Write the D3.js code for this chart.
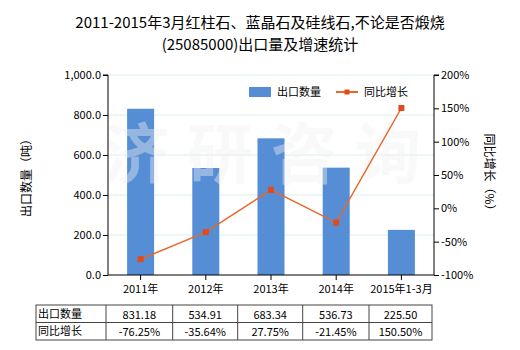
<!DOCTYPE html>
<html>
<head>
<meta charset="utf-8">
<script src="https://cdn.jsdelivr.net/npm/d3@7/dist/d3.min.js"></script>
<style>
  html, body { margin: 0; padding: 0; background: #fff; }
  svg { display: block; font-family: "Noto Sans CJK SC", "Noto Sans", sans-serif; }
</style>
</head>
<body>
<svg id="chart" width="520" height="350"></svg>
<script>
// Export volume (tons) and year-on-year growth (%)
const categories = ["2011年", "2012年", "2013年", "2014年", "2015年1-3月"];
const volume = [831.18, 534.91, 683.34, 536.73, 225.50];
const growth = [-76.25, -35.64, 27.75, -21.45, 150.50];
const volumeLabels = ["831.18", "534.91", "683.34", "536.73", "225.50"];
const growthLabels = ["-76.25%", "-35.64%", "27.75%", "-21.45%", "150.50%"];
const leftTicks = [0, 200, 400, 600, 800, 1000];
const rightTicks = [-100, -50, 0, 50, 100, 150, 200];
const watermark = ["济", "研", "咨", "询"];

const svg = d3.select("#chart");
const m = { left: 108, right: 434, top: 75, bottom: 275 };

const xc = d3.scaleBand().domain(categories).range([m.left, m.right]);
const yL = d3.scaleLinear().domain([0, 1000]).range([m.bottom, m.top]);
const yR = d3.scaleLinear().domain([-100, 200]).range([m.bottom, m.top]);

// Title
const title = svg.append("g").attr("font-size", 15).attr("fill", "#000").attr("text-anchor", "middle");
title.append("text").attr("x", 260).attr("y", 28).text("2011-2015年3月红柱石、蓝晶石及硅线石,不论是否煅烧");
title.append("text").attr("x", 260).attr("y", 50).text("(25085000)出口量及增速统计");

// Gridlines
svg.append("g").selectAll("line").data(leftTicks.slice(1)).join("line")
  .attr("x1", m.left).attr("x2", m.right)
  .attr("y1", d => yL(d)).attr("y2", d => yL(d))
  .attr("stroke", "#d9eeee").attr("stroke-width", 1);

// Bars
svg.append("g").selectAll("rect").data(volume).join("rect")
  .attr("x", (d, i) => xc(categories[i]) + xc.bandwidth() / 2 - 13.5)
  .attr("width", 27)
  .attr("y", d => yL(d))
  .attr("height", d => yL(0) - yL(d))
  .attr("fill", "#558ed5");

// Watermark
svg.append("g").attr("font-size", 66).attr("font-weight", "bold")
  .attr("fill", "#f2f2f2").attr("opacity", 0.4).attr("text-anchor", "middle")
  .selectAll("text").data(watermark).join("text")
  .attr("x", (d, i) => 136 + i * 84).attr("y", 178).text(d => d);

// Growth line
const pts = growth.map((g, i) => [xc(categories[i]) + xc.bandwidth() / 2, yR(g)]);
svg.append("path").attr("d", d3.line()(pts)).attr("fill", "none")
  .attr("stroke", "#e8672a").attr("stroke-width", 1.5);
svg.append("g").selectAll("rect").data(pts).join("rect")
  .attr("x", d => d[0] - 3).attr("y", d => d[1] - 3)
  .attr("width", 6).attr("height", 6).attr("fill", "#e04a1c");

// Axes
const fmtL = d3.format(",.1f");
const axL = svg.append("g").attr("transform", `translate(${m.left},0)`)
  .call(d3.axisLeft(yL).tickValues(leftTicks).tickFormat(fmtL).tickSize(5).tickPadding(2));
const axR = svg.append("g").attr("transform", `translate(${m.right},0)`)
  .call(d3.axisRight(yR).tickValues(rightTicks).tickFormat(d => d + "%").tickSize(5).tickPadding(2));
const axB = svg.append("g").attr("transform", `translate(0,${m.bottom})`)
  .call(d3.axisBottom(xc).tickSize(5).tickPadding(5));
[axL, axR, axB].forEach(a => {
  a.select(".domain").attr("stroke", "#000");
  a.selectAll(".tick line").attr("stroke", "#000");
  a.selectAll("text").attr("font-size", 11).attr("fill", "#000")
    .attr("font-family", "\"Noto Sans CJK SC\", sans-serif");
});
axL.select(".domain").attr("d", `M-5,${m.top}H0V${m.bottom}`);
axR.select(".domain").attr("d", `M5,${m.top}H0V${m.bottom}`);
axB.select(".domain").attr("d", `M${m.left},0H${m.right}`);
axB.selectAll(".tick text").attr("dy", "0.71em");

// Axis titles
svg.append("text").attr("transform", "translate(31,175) rotate(-90)")
  .attr("text-anchor", "middle").attr("font-size", 12).attr("fill", "#000").text("出口数量（吨）");
svg.append("text").attr("transform", "translate(485,175) rotate(90)")
  .attr("text-anchor", "middle").attr("font-size", 12).attr("fill", "#000").text("同比增长（%）");

// Legend
const lg = svg.append("g").attr("font-size", 11).attr("fill", "#000");
lg.append("rect").attr("x", 249).attr("y", 87).attr("width", 22).attr("height", 10).attr("fill", "#558ed5");
lg.append("text").attr("x", 277).attr("y", 96).text("出口数量");
lg.append("line").attr("x1", 336).attr("x2", 358).attr("y1", 92).attr("y2", 92)
  .attr("stroke", "#e8672a").attr("stroke-width", 2);
lg.append("rect").attr("x", 344.5).attr("y", 89.5).attr("width", 5).attr("height", 5).attr("fill", "#e04a1c");
lg.append("text").attr("x", 364).attr("y", 96).text("同比增长");

// Data table
const tTop = 305, tMid = 322.5, tBot = 340, tLeft = 36, tHead = 106;
const colX = [tHead, 172.7, 237.7, 302.7, 369, 432];
const tbl = svg.append("g").attr("font-size", 11).attr("fill", "#000");
tbl.append("rect").attr("x", tLeft).attr("y", tTop).attr("width", colX[5] - tLeft).attr("height", tBot - tTop)
  .attr("fill", "none").attr("stroke", "#444");
tbl.append("line").attr("x1", tLeft).attr("x2", colX[5]).attr("y1", tMid).attr("y2", tMid).attr("stroke", "#444");
colX.slice(0, 5).forEach(cx => tbl.append("line").attr("x1", cx).attr("x2", cx)
  .attr("y1", tTop).attr("y2", tBot).attr("stroke", "#444"));
tbl.append("text").attr("x", tLeft + 2).attr("y", tMid - 5).text("出口数量");
tbl.append("text").attr("x", tLeft + 2).attr("y", tBot - 5).text("同比增长");
volumeLabels.forEach((t, i) => tbl.append("text").attr("x", (colX[i] + colX[i + 1]) / 2)
  .attr("y", tMid - 4).attr("text-anchor", "middle").text(t));
growthLabels.forEach((t, i) => tbl.append("text").attr("x", (colX[i] + colX[i + 1]) / 2)
  .attr("y", tBot - 4).attr("text-anchor", "middle").text(t));
</script>
</body>
</html>
